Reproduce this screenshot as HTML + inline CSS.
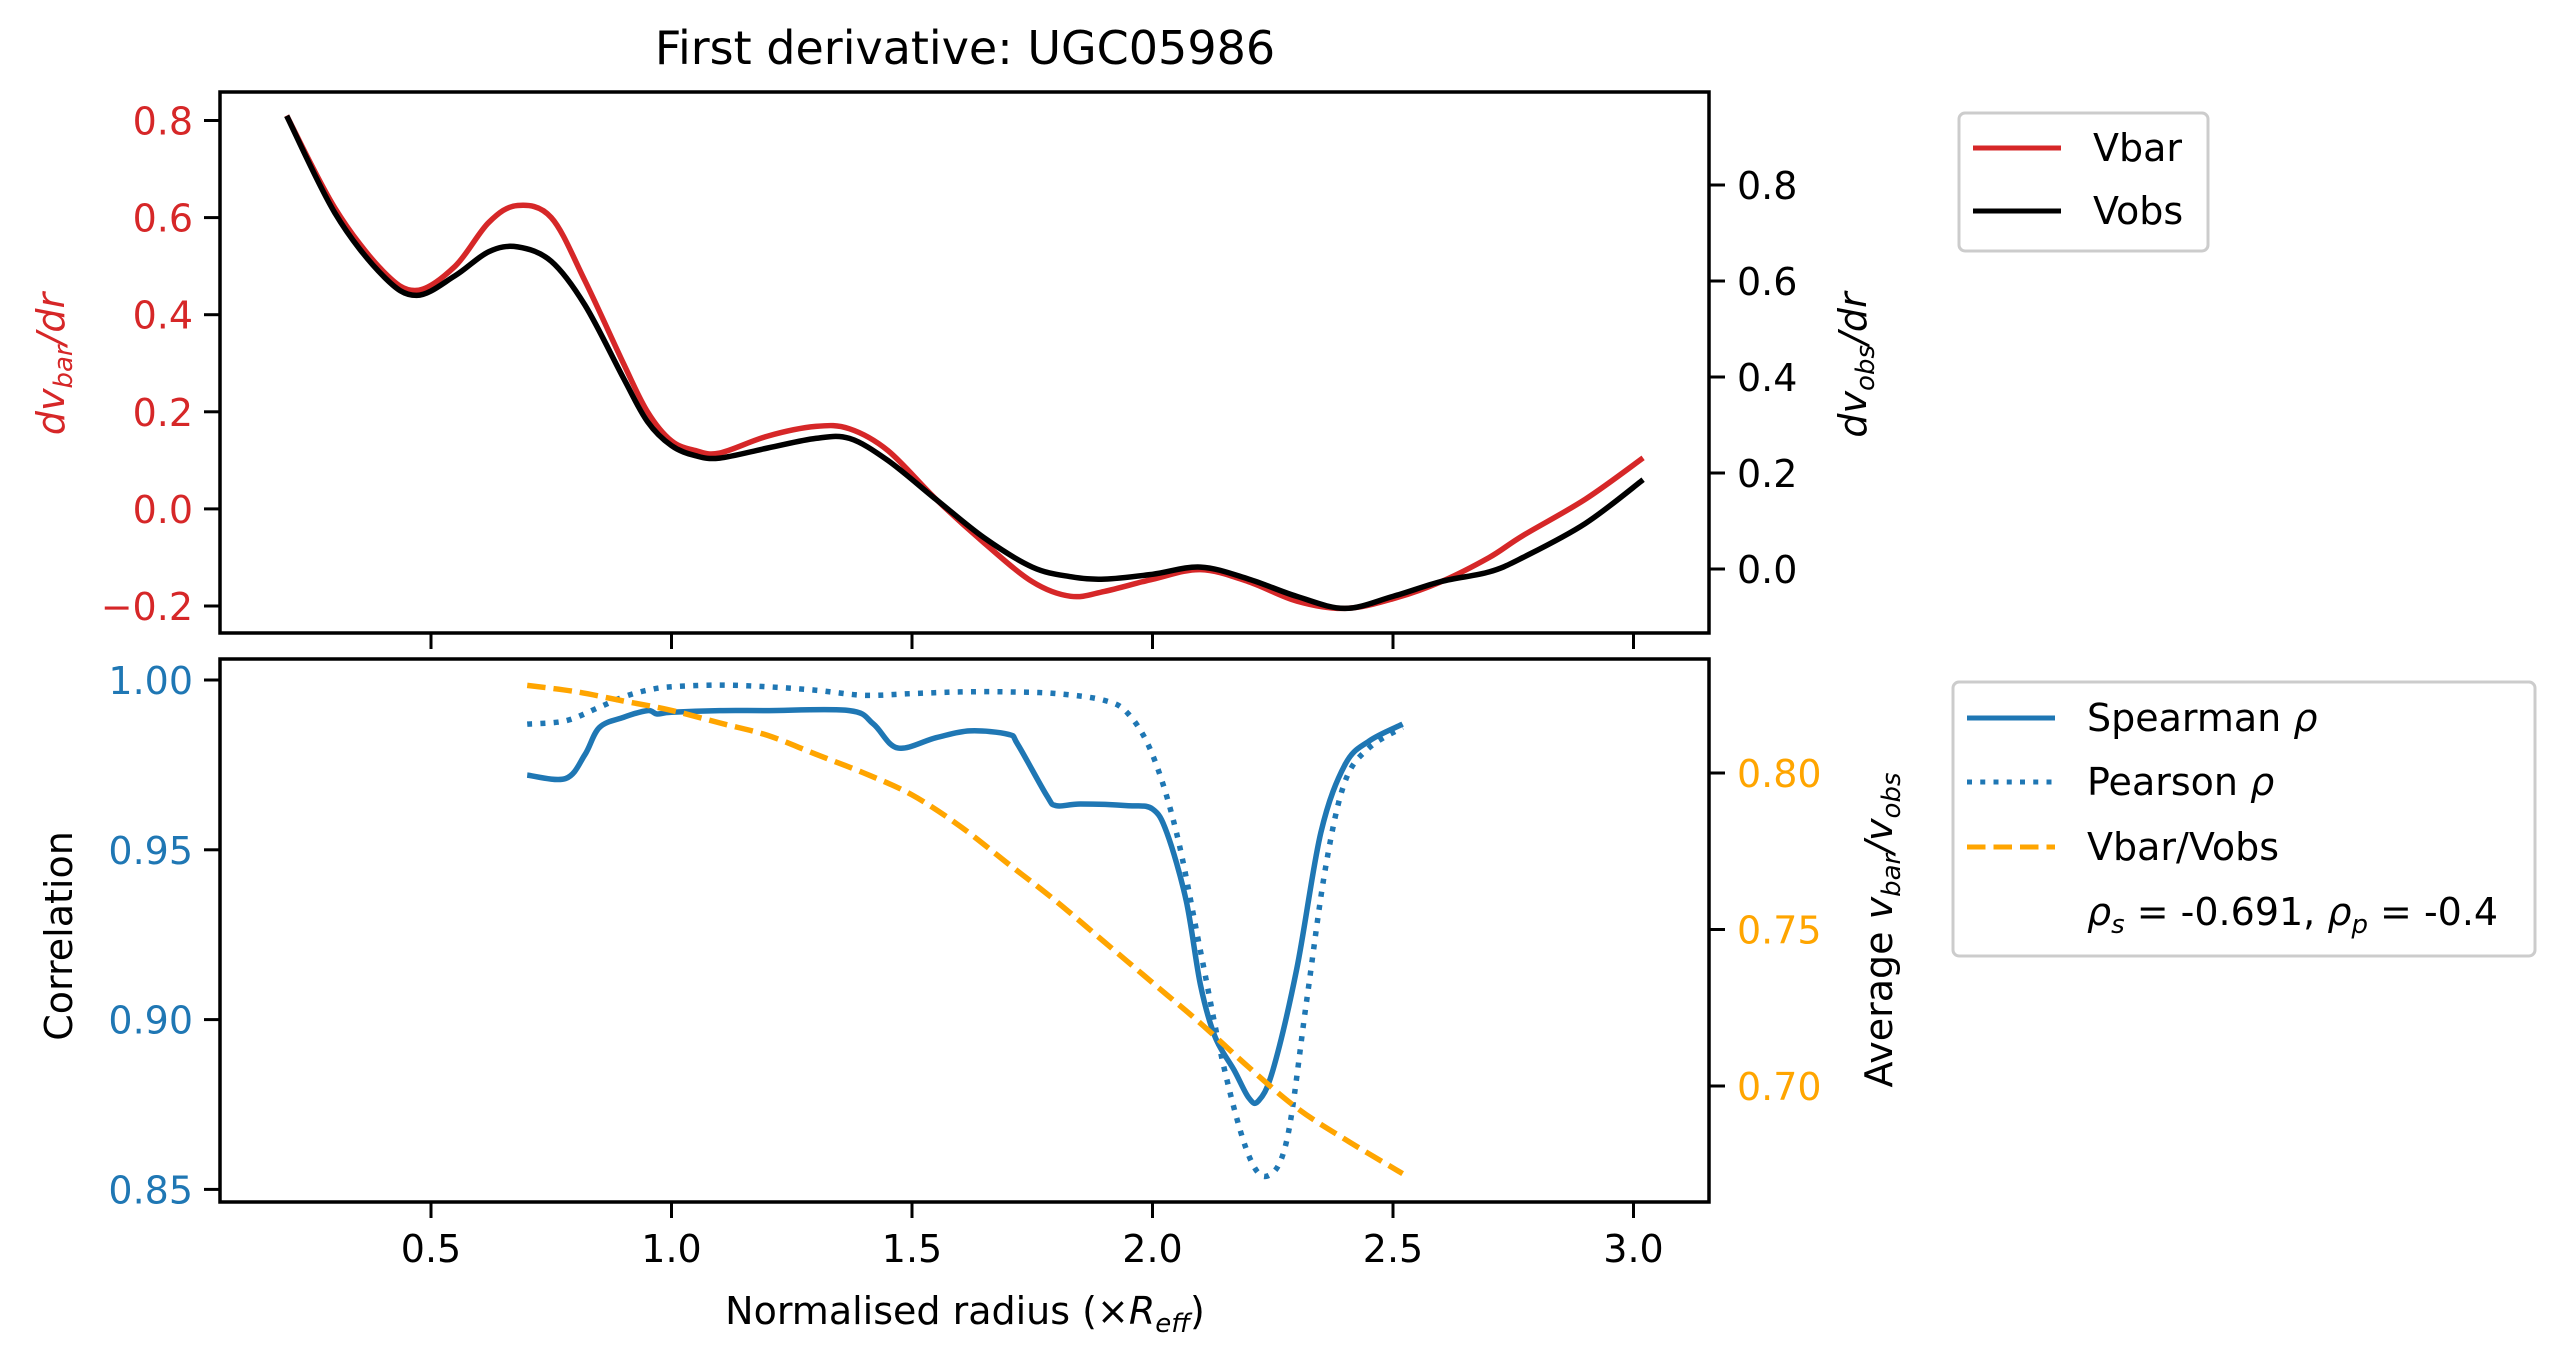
<!DOCTYPE html>
<html><head><meta charset="utf-8"><style>
html,body{margin:0;padding:0;background:#fff;}
svg{display:block;font-family:"DejaVu Sans","Liberation Sans",sans-serif;}
</style></head><body>
<svg id="chart" width="2565" height="1362" viewBox="0 0 2565 1362" xmlns="http://www.w3.org/2000/svg">
<rect x="0" y="0" width="2565" height="1362" fill="#fff"/>
<text x="965" y="64" font-size="46" text-anchor="middle" fill="#000">First derivative: UGC05986</text>
<g id="topPanel"></g>
<g id="botPanel"></g>
<g>
<rect x="1959" y="113" width="249" height="138" rx="6" fill="#fff" stroke="#ccc" stroke-width="3"/>
<line x1="1973" y1="148" x2="2061" y2="148" stroke="#d62728" stroke-width="5"/>
<text x="2093" y="161" font-size="38">Vbar</text>
<line x1="1973" y1="211" x2="2061" y2="211" stroke="#000" stroke-width="5"/>
<text x="2093" y="224" font-size="38">Vobs</text>
</g>
<g>
<rect x="1953" y="682" width="582" height="274" rx="6" fill="#fff" stroke="#ccc" stroke-width="3"/>
<line x1="1967" y1="718" x2="2055" y2="718" stroke="#1f77b4" stroke-width="5"/>
<text x="2087" y="731" font-size="38">Spearman <tspan font-style="italic">ρ</tspan></text>
<line x1="1967" y1="782" x2="2055" y2="782" stroke="#1f77b4" stroke-width="5" stroke-dasharray="5,8.25"/>
<text x="2087" y="795" font-size="38">Pearson <tspan font-style="italic">ρ</tspan></text>
<line x1="1967" y1="847" x2="2055" y2="847" stroke="#ffa500" stroke-width="5" stroke-dasharray="18.5,8"/>
<text x="2087" y="860" font-size="38">Vbar/Vobs</text>
<text x="2087" y="925" font-size="38"><tspan font-style="italic">ρ</tspan><tspan font-size="26" font-style="italic" dy="8">s</tspan><tspan dy="-8"> = -0.691, </tspan><tspan font-style="italic">ρ</tspan><tspan font-size="26" font-style="italic" dy="8">p</tspan><tspan dy="-8"> = -0.4</tspan></text>
</g>
<text x="965" y="1324" font-size="38" text-anchor="middle">Normalised radius (×<tspan font-style="italic">R</tspan><tspan font-style="italic" font-size="26" dy="8">eff</tspan><tspan dy="-8">)</tspan></text>
<text transform="translate(64,364) rotate(-90)" font-size="38" text-anchor="middle" fill="#d62728"><tspan font-style="italic">dv</tspan><tspan font-style="italic" font-size="26" dy="8">bar</tspan><tspan font-style="italic" dy="-8">/dr</tspan></text>
<text transform="translate(1866,365) rotate(-90)" font-size="38" text-anchor="middle" fill="#000"><tspan font-style="italic">dv</tspan><tspan font-style="italic" font-size="26" dy="8">obs</tspan><tspan font-style="italic" dy="-8">/dr</tspan></text>
<text transform="translate(72,936) rotate(-90)" font-size="38" text-anchor="middle">Correlation</text>
<text transform="translate(1892,930) rotate(-90)" font-size="38" text-anchor="middle">Average <tspan font-style="italic">v</tspan><tspan font-style="italic" font-size="26" dy="8">bar</tspan><tspan font-style="italic" dy="-8">/v</tspan><tspan font-style="italic" font-size="26" dy="8">obs</tspan></text>
</svg>
<script>
const radiusTop = [0.2,0.3,0.4,0.47,0.55,0.62,0.68,0.75,0.82,0.9,0.95,1.0,1.05,1.1,1.2,1.3,1.37,1.45,1.55,1.65,1.75,1.83,1.9,2.0,2.1,2.2,2.3,2.4,2.5,2.6,2.7,2.77,2.9,3.02];
const dvBar = [0.81,0.62,0.49,0.45,0.5,0.59,0.625,0.6,0.47,0.3,0.2,0.14,0.12,0.115,0.15,0.17,0.165,0.12,0.02,-0.07,-0.15,-0.18,-0.17,-0.145,-0.125,-0.15,-0.19,-0.205,-0.185,-0.15,-0.1,-0.055,0.02,0.105];
const dvObs = [0.944,0.742,0.611,0.57,0.611,0.661,0.671,0.641,0.55,0.398,0.307,0.257,0.236,0.231,0.252,0.272,0.272,0.226,0.145,0.065,0.004,-0.016,-0.021,-0.011,0.004,-0.021,-0.057,-0.082,-0.057,-0.026,-0.006,0.024,0.095,0.186];
const radiusSp = [0.7,0.78,0.82,0.85,0.9,0.95,0.97,1.0,1.1,1.2,1.37,1.42,1.47,1.55,1.62,1.7,1.72,1.78,1.8,1.85,1.95,2.0,2.03,2.07,2.1,2.13,2.17,2.2,2.22,2.25,2.3,2.35,2.4,2.45,2.52];
const spearman = [0.972,0.971,0.978,0.986,0.989,0.991,0.99,0.9905,0.991,0.991,0.991,0.987,0.98,0.983,0.985,0.984,0.981,0.966,0.963,0.9635,0.963,0.962,0.955,0.935,0.91,0.895,0.885,0.877,0.876,0.885,0.915,0.955,0.975,0.982,0.987];
const radiusPe = [0.7,0.78,0.85,0.9,0.95,1.0,1.1,1.2,1.3,1.4,1.5,1.6,1.7,1.8,1.9,1.95,2.0,2.05,2.1,2.15,2.2,2.24,2.28,2.32,2.36,2.4,2.45,2.52];
const pearson = [0.987,0.988,0.992,0.995,0.997,0.998,0.9985,0.998,0.997,0.9955,0.996,0.9965,0.9965,0.996,0.994,0.99,0.978,0.955,0.92,0.885,0.86,0.854,0.865,0.905,0.945,0.97,0.98,0.986];
const radiusRatio = [0.7,0.8,0.9,1.0,1.1,1.2,1.3,1.4,1.5,1.6,1.7,1.8,1.9,2.0,2.1,2.2,2.3,2.4,2.52];
const ratio = [0.828,0.826,0.823,0.82,0.816,0.812,0.806,0.8,0.793,0.783,0.771,0.759,0.746,0.733,0.72,0.706,0.693,0.683,0.672];
const xTicks = [0.5,1.0,1.5,2.0,2.5,3.0];
const topLeftTicks = [0.8,0.6,0.4,0.2,0.0,-0.2];
const topRightTicks = [0.8,0.6,0.4,0.2,0.0];
const botLeftTicks = [1.00,0.95,0.90,0.85];
const botRightTicks = [0.80,0.75,0.70];

const NS="http://www.w3.org/2000/svg";
const L=220,R=1709;
const X=v=>431+(v-0.5)*481;
const yTL=v=>120.5+(0.8-v)*485.5;
const yTR=v=>569-v*480;
const yBL=v=>680+(1.0-v)*3396;
const yBR=v=>1086-(v-0.70)*3130;
function mk(tag,attrs,parent){const e=document.createElementNS(NS,tag);for(const k in attrs)e.setAttribute(k,attrs[k]);parent.appendChild(e);return e;}
function smooth(xs,ys,fx,fy){
  const p=xs.map((x,i)=>[fx(x),fy(ys[i])]);
  let d="M"+p[0][0].toFixed(1)+","+p[0][1].toFixed(1);
  for(let i=0;i<p.length-1;i++){
    const p0=p[i-1]||p[i],p1=p[i],p2=p[i+1],p3=p[i+2]||p2;
    const c1=[p1[0]+(p2[0]-p0[0])/6,p1[1]+(p2[1]-p0[1])/6];
    const c2=[p2[0]-(p3[0]-p1[0])/6,p2[1]-(p3[1]-p1[1])/6];
    d+=" C"+c1[0].toFixed(1)+","+c1[1].toFixed(1)+" "+c2[0].toFixed(1)+","+c2[1].toFixed(1)+" "+p2[0].toFixed(1)+","+p2[1].toFixed(1);
  }
  return d;
}
function fmt(v,d){return (v<0?"\u2212":"")+Math.abs(v).toFixed(d);}
function panel(g,pTop,pBot,leftTicks,yl,leftColor,ld,rightTicks,yr,rightColor,rd,showXLabels){
  const clipId="clip"+pTop;
  const cp=mk("clipPath",{id:clipId},g);mk("rect",{x:L,y:pTop,width:R-L,height:pBot-pTop},cp);
  const series=mk("g",{"clip-path":"url(#"+clipId+")"},g);
  for(const t of leftTicks){
    const y=yl(t);
    const tk=mk("line",{x1:L-16,y1:y,x2:L,y2:y,stroke:"#000","stroke-width":3},g);
    
    
    const tx=mk("text",{x:L-27,y:y+14,"font-size":38,"text-anchor":"end",fill:leftColor},g);
    
    
    tx.textContent=fmt(t,ld);
  }
  for(const t of rightTicks){
    const y=yr(t);
    const tk=mk("line",{x1:R,y1:y,x2:R+16,y2:y,stroke:"#000","stroke-width":3},g);
    
    
    const tx=mk("text",{x:R+28,y:y+14,"font-size":38,fill:rightColor},g);
    
    
    tx.textContent=fmt(t,rd);
  }
  for(const t of xTicks){
    const x=X(t);
    const tk=mk("line",{x1:x,y1:pBot,x2:x,y2:pBot+16,stroke:"#000","stroke-width":3},g);
    
    
    if(showXLabels){
      const tx=mk("text",{x:x,y:pBot+60,"font-size":38,"text-anchor":"middle"},g);
      
      
      tx.textContent=t.toFixed(1);
    }
  }
  const fr=mk("rect",{x:L,y:pTop,width:R-L,height:pBot-pTop,fill:"none",stroke:"#000","stroke-width":3.5},g);
  
  
  return series;
}
const topG=document.getElementById("topPanel"),botG=document.getElementById("botPanel");
const s1=panel(topG,92,633,topLeftTicks,yTL,"#d62728",1,topRightTicks,yTR,"#000",1,false);
let p=mk("path",{d:smooth(radiusTop,dvBar,X,yTL),fill:"none",stroke:"#d62728","stroke-width":5.5,"stroke-linejoin":"round"},s1);


p=mk("path",{d:smooth(radiusTop,dvObs,X,yTR),fill:"none",stroke:"#000","stroke-width":5.5,"stroke-linejoin":"round"},s1);


const s2=panel(botG,659,1202,botLeftTicks,yBL,"#1f77b4",2,botRightTicks,yBR,"#ffa500",2,true);
p=mk("path",{d:smooth(radiusSp,spearman,X,yBL),fill:"none",stroke:"#1f77b4","stroke-width":5.5,"stroke-linejoin":"round"},s2);


p=mk("path",{d:smooth(radiusPe,pearson,X,yBL),fill:"none",stroke:"#1f77b4","stroke-width":5.5,"stroke-dasharray":"5,8.25"},s2);


p=mk("path",{d:smooth(radiusRatio,ratio,X,yBR),fill:"none",stroke:"#ffa500","stroke-width":5.5,"stroke-dasharray":"18.5,8"},s2);


</script>
</body></html>
